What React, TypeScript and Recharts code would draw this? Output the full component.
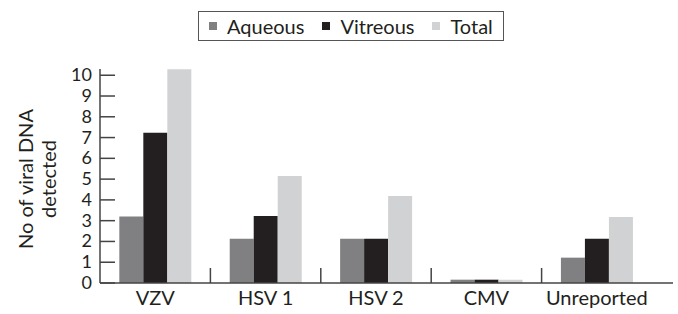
import { BarChart, Bar, XAxis, YAxis, Legend, Label } from 'recharts'

const categories = ['VZV', 'HSV 1', 'HSV 2', 'CMV', 'Unreported']
const aqueous = [3.2, 2.13, 2.13, 0.16, 1.22]
const vitreous = [7.23, 3.23, 2.13, 0.16, 2.13]
const total = [10.29, 5.15, 4.19, 0.16, 3.18]
const yTicks = [0, 1, 2, 3, 4, 5, 6, 7, 8, 9, 10]

const series = [
  { key: 'aqueous', name: 'Aqueous', color: '#808083' },
  { key: 'vitreous', name: 'Vitreous', color: '#231f20' },
  { key: 'total', name: 'Total', color: '#d1d2d4' },
]

const data = categories.map((name, i) => ({
  name,
  aqueous: aqueous[i],
  vitreous: vitreous[i],
  total: total[i],
}))

const FONT = 'Lato, "Open Sans", sans-serif'
const AXIS = '#444'

function XTick(props: any) {
  const { x, y, payload, index } = props
  const off = payload?.offset ?? 55
  return (
    <g>
      {index > 0 && (
        <line x1={x - off} x2={x - off} y1={y} y2={y - 15} stroke={AXIS} strokeWidth={1.5} />
      )}
      <text x={x} y={y + 22} textAnchor="middle" fontSize={20} fontFamily={FONT} fill="#231f20">
        {payload.value}
      </text>
    </g>
  )
}

function YTick(props: any) {
  const { x, y, payload } = props
  return (
    <g>
      <line x1={x + 8} x2={x + 23} y1={y} y2={y} stroke={AXIS} strokeWidth={1.5} />
      <text x={x} y={y + 6} textAnchor="end" fontSize={18} fontFamily={FONT} fill="#231f20">
        {payload.value}
      </text>
    </g>
  )
}

// two-line rotated axis title
function YLabel(props: any) {
  const vb = props.viewBox || {}
  const cx = 35
  const cy = (vb.y ?? 69) + (vb.height ?? 214) / 2 + 3
  return (
    <text
      transform={`rotate(-90, ${cx}, ${cy})`}
      x={cx}
      y={cy}
      textAnchor="middle"
      fontSize={20}
      fontFamily={FONT}
      fill="#231f20"
    >
      <tspan x={cx} dy={-2}>No of viral DNA</tspan>
      <tspan x={cx} dy={23}>detected</tspan>
    </text>
  )
}

function LegendBox() {
  return (
    <div
      style={{
        display: 'inline-flex',
        alignItems: 'center',
        height: 28,
        border: '1px solid #555',
        padding: '0 10px',
        fontFamily: FONT,
        fontSize: 20,
        color: '#231f20',
        boxSizing: 'content-box',
      }}
    >
      {series.map((s, i) => (
        <span key={s.key} style={{ display: 'inline-flex', alignItems: 'center', marginLeft: i ? 18 : 0 }}>
          <span style={{ width: 8, height: 8, background: s.color, marginRight: 10, display: 'inline-block' }} />
          {s.name}
        </span>
      ))}
    </div>
  )
}

export default function App() {
  return (
    <div style={{ position: 'absolute', left: 0, top: 0, background: '#fff' }}>
      <BarChart
        width={678}
        height={314}
        data={data}
        margin={{ top: 39, right: 5, left: 0, bottom: 0 }}
        barGap={0}
        barCategoryGap="17.5%"
      >
        <Legend
          verticalAlign="top"
          align="left"
          content={() => <LegendBox />}
          wrapperStyle={{ top: 11, left: 198, width: 'auto', lineHeight: 'normal' }}
        />
        <XAxis
          dataKey="name"
          height={31}
          padding={{ left: 0, right: 21 }}
          tickLine={false}
          tickSize={0}
          tickMargin={0}
          interval={0}
          axisLine={{ stroke: AXIS, strokeWidth: 1.5 }}
          tick={<XTick />}
        />
        <YAxis
          width={100}
          domain={[0, 10.3]}
          ticks={yTicks}
          interval={0}
          tickLine={false}
          tickSize={0}
          tickMargin={8}
          axisLine={{ stroke: AXIS, strokeWidth: 1.5 }}
          tick={<YTick />}
        >
          <Label content={<YLabel />} />
        </YAxis>
        {series.map((s) => (
          <Bar key={s.key} dataKey={s.key} name={s.name} fill={s.color} isAnimationActive={false} />
        ))}
      </BarChart>
    </div>
  )
}
